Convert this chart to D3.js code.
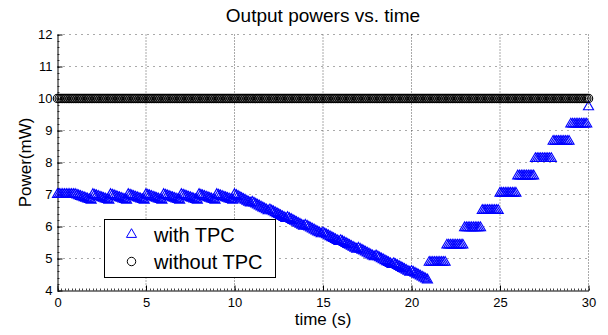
<!DOCTYPE html>
<html>
<head>
<meta charset="utf-8">
<script src="https://cdn.jsdelivr.net/npm/d3@7"></script>
<style>
  html, body { margin: 0; background: #fff; }
  svg { display: block; font-family: "Liberation Sans", Arial, sans-serif; }
</style>
</head>
<body>
<div id="chart"></div>
<script>
'use strict';

// sample instants, every 0.1 s from 0 to 30 s
const TIME = d3.range(301).map(i => i / 10);

// output power with TPC (mW), one row per second
const WITH_TPC = [
    7.00, 7.00, 7.00, 7.00, 7.00, 7.00, 7.00, 7.00, 7.00, 7.00,
    7.00, 6.98, 6.96, 6.94, 6.92, 6.90, 6.88, 6.86, 6.84, 6.82,
    7.00, 6.98, 6.96, 6.94, 6.92, 6.90, 6.88, 6.86, 6.84, 6.82,
    7.00, 6.98, 6.96, 6.94, 6.92, 6.90, 6.88, 6.86, 6.84, 6.82,
    7.00, 6.98, 6.96, 6.94, 6.92, 6.90, 6.88, 6.86, 6.84, 6.82,
    7.00, 6.98, 6.96, 6.94, 6.92, 6.90, 6.88, 6.86, 6.84, 6.82,
    7.00, 6.98, 6.96, 6.94, 6.92, 6.90, 6.88, 6.86, 6.84, 6.82,
    7.00, 6.98, 6.96, 6.94, 6.92, 6.90, 6.88, 6.86, 6.84, 6.82,
    7.00, 6.98, 6.96, 6.94, 6.92, 6.90, 6.88, 6.86, 6.84, 6.82,
    7.00, 6.98, 6.96, 6.94, 6.92, 6.90, 6.88, 6.86, 6.84, 6.82,
    7.00, 6.97, 6.94, 6.91, 6.88, 6.85, 6.82, 6.79, 6.76, 6.73,
    6.76, 6.73, 6.70, 6.67, 6.64, 6.61, 6.58, 6.55, 6.52, 6.49,
    6.52, 6.49, 6.46, 6.43, 6.40, 6.37, 6.34, 6.31, 6.28, 6.25,
    6.28, 6.25, 6.22, 6.19, 6.16, 6.13, 6.10, 6.07, 6.04, 6.01,
    6.04, 6.01, 5.98, 5.95, 5.92, 5.89, 5.86, 5.83, 5.80, 5.77,
    5.80, 5.77, 5.74, 5.71, 5.68, 5.65, 5.62, 5.59, 5.56, 5.53,
    5.56, 5.53, 5.50, 5.47, 5.44, 5.41, 5.38, 5.35, 5.32, 5.29,
    5.32, 5.29, 5.26, 5.23, 5.20, 5.17, 5.14, 5.11, 5.08, 5.05,
    5.08, 5.05, 5.02, 4.99, 4.96, 4.93, 4.90, 4.87, 4.84, 4.81,
    4.84, 4.81, 4.78, 4.75, 4.72, 4.69, 4.66, 4.63, 4.60, 4.57,
    4.60, 4.57, 4.54, 4.51, 4.48, 4.45, 4.42, 4.39, 4.36, 4.33,
    4.88, 4.88, 4.88, 4.88, 4.88, 4.88, 4.88, 4.88, 4.88, 4.88,
    5.42, 5.42, 5.42, 5.42, 5.42, 5.42, 5.42, 5.42, 5.42, 5.42,
    5.96, 5.96, 5.96, 5.96, 5.96, 5.96, 5.96, 5.96, 5.96, 5.96,
    6.50, 6.50, 6.50, 6.50, 6.50, 6.50, 6.50, 6.50, 6.50, 6.50,
    7.04, 7.04, 7.04, 7.04, 7.04, 7.04, 7.04, 7.04, 7.04, 7.04,
    7.58, 7.58, 7.58, 7.58, 7.58, 7.58, 7.58, 7.58, 7.58, 7.58,
    8.12, 8.12, 8.12, 8.12, 8.12, 8.12, 8.12, 8.12, 8.12, 8.12,
    8.66, 8.66, 8.66, 8.66, 8.66, 8.66, 8.66, 8.66, 8.66, 8.66,
    9.20, 9.20, 9.20, 9.20, 9.20, 9.20, 9.20, 9.20, 9.20, 9.20,
    9.74
];

// output power without TPC (mW), one row per second
const WITHOUT_TPC = [
    10, 10, 10, 10, 10, 10, 10, 10, 10, 10,
    10, 10, 10, 10, 10, 10, 10, 10, 10, 10,
    10, 10, 10, 10, 10, 10, 10, 10, 10, 10,
    10, 10, 10, 10, 10, 10, 10, 10, 10, 10,
    10, 10, 10, 10, 10, 10, 10, 10, 10, 10,
    10, 10, 10, 10, 10, 10, 10, 10, 10, 10,
    10, 10, 10, 10, 10, 10, 10, 10, 10, 10,
    10, 10, 10, 10, 10, 10, 10, 10, 10, 10,
    10, 10, 10, 10, 10, 10, 10, 10, 10, 10,
    10, 10, 10, 10, 10, 10, 10, 10, 10, 10,
    10, 10, 10, 10, 10, 10, 10, 10, 10, 10,
    10, 10, 10, 10, 10, 10, 10, 10, 10, 10,
    10, 10, 10, 10, 10, 10, 10, 10, 10, 10,
    10, 10, 10, 10, 10, 10, 10, 10, 10, 10,
    10, 10, 10, 10, 10, 10, 10, 10, 10, 10,
    10, 10, 10, 10, 10, 10, 10, 10, 10, 10,
    10, 10, 10, 10, 10, 10, 10, 10, 10, 10,
    10, 10, 10, 10, 10, 10, 10, 10, 10, 10,
    10, 10, 10, 10, 10, 10, 10, 10, 10, 10,
    10, 10, 10, 10, 10, 10, 10, 10, 10, 10,
    10, 10, 10, 10, 10, 10, 10, 10, 10, 10,
    10, 10, 10, 10, 10, 10, 10, 10, 10, 10,
    10, 10, 10, 10, 10, 10, 10, 10, 10, 10,
    10, 10, 10, 10, 10, 10, 10, 10, 10, 10,
    10, 10, 10, 10, 10, 10, 10, 10, 10, 10,
    10, 10, 10, 10, 10, 10, 10, 10, 10, 10,
    10, 10, 10, 10, 10, 10, 10, 10, 10, 10,
    10, 10, 10, 10, 10, 10, 10, 10, 10, 10,
    10, 10, 10, 10, 10, 10, 10, 10, 10, 10,
    10, 10, 10, 10, 10, 10, 10, 10, 10, 10,
    10
];

const X_TICKS = [0, 5, 10, 15, 20, 25, 30];
const Y_TICKS = [4, 5, 6, 7, 8, 9, 10, 11, 12];
const SERIES_NAMES = ['with TPC', 'without TPC'];

const W = 608, H = 335;
const x = d3.scaleLinear([0, 30], [57.5, 588.5]);
const y = d3.scaleLinear([4, 12], [290.5, 34.5]);

const svg = d3.select('#chart').append('svg')
    .attr('width', W).attr('height', H).attr('viewBox', `0 0 ${W} ${H}`);

// dotted grid (box is off, so top and right edges are grid lines too)
const grid = svg.append('g').attr('stroke', '#555').attr('stroke-width', 1);
grid.selectAll('line.h').data(Y_TICKS.slice(1)).join('line').attr('class', 'h')
    .attr('x1', x(0)).attr('x2', x(30))
    .attr('y1', d => y(d)).attr('y2', d => y(d))
    .attr('stroke-dasharray', '1,5');
grid.selectAll('line.v').data(X_TICKS.slice(1)).join('line').attr('class', 'v')
    .attr('x1', d => x(d)).attr('x2', d => x(d))
    .attr('y1', y(4)).attr('y2', y(12))
    .attr('stroke-dasharray', '1,2');

// minor ticks
const minor = svg.append('g').attr('stroke', '#444').attr('stroke-width', 1);
minor.selectAll('line.mx').data(d3.range(0, 30.01, 0.2)).join('line').attr('class', 'mx')
    .attr('x1', d => Math.round(x(d)) + 0.5).attr('x2', d => Math.round(x(d)) + 0.5)
    .attr('y1', y(4)).attr('y2', y(4) - 2);
minor.selectAll('line.my').data(d3.range(4, 12.01, 0.2)).join('line').attr('class', 'my')
    .attr('y1', d => Math.round(y(d)) + 0.5).attr('y2', d => Math.round(y(d)) + 0.5)
    .attr('x1', x(0)).attr('x2', x(0) + 2);

// axes
const xAxis = svg.append('g').attr('transform', `translate(0,${y(4)})`)
    .call(d3.axisBottom(x).tickValues(X_TICKS).tickFormat(d3.format('d'))
        .tickSizeInner(-5).tickSizeOuter(0).tickPadding(7));
const yAxis = svg.append('g').attr('transform', `translate(${x(0)},0)`)
    .call(d3.axisLeft(y).tickValues(Y_TICKS).tickFormat(d3.format('d'))
        .tickSizeInner(-5).tickSizeOuter(0).tickPadding(5));
[xAxis, yAxis].forEach(a => {
    a.attr('font-family', null).attr('font-size', 13);
    a.selectAll('path, line').attr('stroke', '#000');
    a.selectAll('text').attr('fill', '#000');
});

// markers
const tri = d3.symbol(d3.symbolTriangle, 44);
const circ = d3.symbol(d3.symbolCircle, 56);

svg.append('g').attr('fill', 'none').attr('stroke', '#0000ff').attr('stroke-width', 1.1)
    .selectAll('path').data(TIME).join('path')
    .attr('transform', (t, i) => `translate(${x(t)},${y(WITH_TPC[i])})`)
    .attr('d', tri);

svg.append('g').attr('fill', 'none').attr('stroke', '#000').attr('stroke-width', 1.1)
    .selectAll('path').data(TIME).join('path')
    .attr('transform', (t, i) => `translate(${x(t)},${y(WITHOUT_TPC[i])})`)
    .attr('d', circ);

// title and axis labels
svg.append('text').attr('x', (x(0) + x(30)) / 2).attr('y', 21.5)
    .attr('text-anchor', 'middle').attr('font-size', 19).text('Output powers vs. time');
svg.append('text').attr('x', (x(0) + x(30)) / 2).attr('y', 325)
    .attr('text-anchor', 'middle').attr('font-size', 17).text('time (s)');
svg.append('text').attr('transform', `translate(31,${(y(4) + y(12)) / 2}) rotate(-90)`)
    .attr('text-anchor', 'middle').attr('font-size', 17).text('Power(mW)');

// legend
const lg = svg.append('g');
lg.append('rect').attr('x', 104.5).attr('y', 219.5).attr('width', 171).attr('height', 58)
    .attr('fill', '#fff').attr('stroke', '#000').attr('stroke-width', 1);
lg.append('path').attr('transform', 'translate(131.5,234.5)').attr('d', tri)
    .attr('fill', 'none').attr('stroke', '#0000ff');
lg.append('path').attr('transform', 'translate(131.5,261.5)').attr('d', circ)
    .attr('fill', 'none').attr('stroke', '#000');
lg.selectAll('text').data(SERIES_NAMES).join('text')
    .attr('x', 154).attr('y', (d, i) => 241.5 + i * 27.5)
    .attr('font-size', 20).text(d => d);
</script>
</body>
</html>
